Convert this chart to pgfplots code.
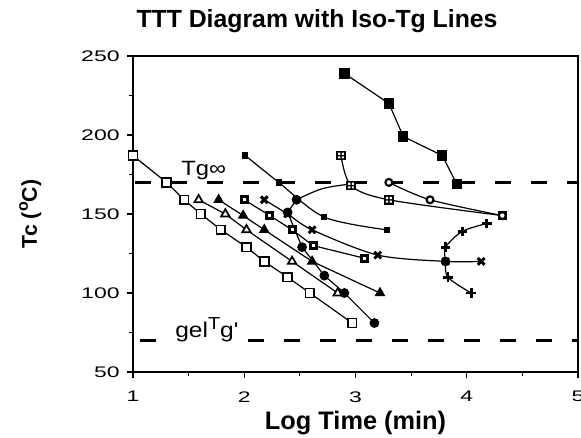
\documentclass[border=0pt]{standalone}
\usepackage{fontspec}
\setmainfont{Liberation Sans}
\newfontfamily\tickfont[FakeStretch=1.5]{Liberation Sans}
\newfontfamily\notefont[FakeStretch=1.15]{Liberation Sans}
\usepackage{pgfplots}
\pgfplotsset{compat=1.18}
\usetikzlibrary{calc}

% black square with a small white hole in the middle
\pgfdeclareplotmark{boxdot}{%
  \pgfpathrectangle{\pgfqpoint{-\pgfplotmarksize}{-\pgfplotmarksize}}{\pgfqpoint{2\pgfplotmarksize}{2\pgfplotmarksize}}%
  \pgfusepathqfill
  \pgfscope
  \pgfsetfillcolor{white}%
  \pgfpathrectangle{\pgfqpoint{-0.35\pgfplotmarksize}{-0.35\pgfplotmarksize}}{\pgfqpoint{0.7\pgfplotmarksize}{0.7\pgfplotmarksize}}%
  \pgfusepathqfill
  \endpgfscope
}
% black square with four white panes
\pgfdeclareplotmark{boxgrid}{%
  \pgfpathrectangle{\pgfqpoint{-\pgfplotmarksize}{-\pgfplotmarksize}}{\pgfqpoint{2\pgfplotmarksize}{2\pgfplotmarksize}}%
  \pgfusepathqfill
  \pgfscope
  \pgfsetfillcolor{white}%
  \pgfpathrectangle{\pgfqpoint{-0.6\pgfplotmarksize}{-0.6\pgfplotmarksize}}{\pgfqpoint{0.45\pgfplotmarksize}{0.45\pgfplotmarksize}}%
  \pgfpathrectangle{\pgfqpoint{0.15\pgfplotmarksize}{-0.6\pgfplotmarksize}}{\pgfqpoint{0.45\pgfplotmarksize}{0.45\pgfplotmarksize}}%
  \pgfpathrectangle{\pgfqpoint{-0.6\pgfplotmarksize}{0.15\pgfplotmarksize}}{\pgfqpoint{0.45\pgfplotmarksize}{0.45\pgfplotmarksize}}%
  \pgfpathrectangle{\pgfqpoint{0.15\pgfplotmarksize}{0.15\pgfplotmarksize}}{\pgfqpoint{0.45\pgfplotmarksize}{0.45\pgfplotmarksize}}%
  \pgfusepathqfill
  \endpgfscope
}

\begin{document}
\begin{tikzpicture}
\begin{axis}[
  name=ax,
  scale only axis,
  width=333.75pt, height=237pt,
  xmin=1, xmax=5, ymin=50, ymax=250,
  xtick={1,2,3,4,5}, ytick={50,100,150,200,250},
  minor x tick num=1, minor y tick num=1,
  tick align=outside, tick pos=left,
  major tick length=4.5pt, minor tick length=3pt,
  axis line style={line width=1pt},
  every tick/.style={line width=0.9pt, black},
  /pgf/number format/assume math mode=true,
  ticklabel style={font=\tickfont\fontsize{11.5}{13}\selectfont},
  xticklabel style={yshift=-6.5pt},
  yticklabel style={xshift=-2pt},
  clip=false,
  every axis plot/.append style={black, line width=0.9pt},
]
% reference temperatures
\addplot[line width=2.4pt, dash pattern=on 12pt off 15pt, forget plot] coordinates {(1.02,170) (5,170)};
\addplot[line width=2.4pt, dash pattern=on 12pt off 15pt, forget plot] coordinates {(1.06,70) (5,70)};

% open squares
\addplot[mark=square*, mark options={fill=white, line width=1.3pt}, mark size=3.3pt]
  coordinates {(1.00,187) (1.30,170) (1.46,159) (1.61,150) (1.79,140) (2.02,129) (2.18,120) (2.39,110) (2.59,100) (2.97,81)};
% open triangles
\addplot[mark=triangle*, mark options={fill=white, line width=1.3pt}, mark size=3.6pt]
  coordinates {(1.59,159) (1.83,150) (2.02,140) (2.43,120) (2.84,100)};
% filled triangles
\addplot[mark=triangle*, mark size=3.8pt]
  coordinates {(1.77,159) (1.99,149) (2.18,140) (2.61,120) (3.22,100)};
% boxed dots
\addplot[mark=boxdot, mark size=3.4pt]
  coordinates {(2.00,159) (2.23,149) (2.43,140) (2.62,130) (3.08,122)};
% crosses
\addplot[mark=x, mark options={line width=2.2pt}, mark size=3.6pt, smooth, tension=0.5]
  coordinates {(2.18,159) (2.39,150) (2.61,140) (3.20,124) (3.81,120) (4.13,120)};
% filled circles
\addplot[mark=*, mark size=3.2pt]
  coordinates {(2.47,159) (2.39,151) (2.52,129) (2.72,111) (2.90,100) (3.17,81)};
\addplot[smooth, tension=0.6] coordinates {(2.47,159) (2.70,166) (2.96,169)};
% small filled squares
\addplot[mark=square*, mark size=1.9pt, smooth, tension=0.5]
  coordinates {(2.01,187) (2.31,170) (2.72,148) (3.28,140)};
% large filled squares
\addplot[mark=square*, mark size=3.4pt]
  coordinates {(2.90,239) (3.30,220) (3.43,199) (3.78,187) (3.91,169)};
% grid squares
\addplot[mark=boxgrid, mark size=3.6pt, smooth, tension=0.5]
  coordinates {(2.87,187) (2.96,168) (3.30,159) (4.32,149)};
% open circles
\addplot[mark=*, mark options={fill=white, line width=1.6pt}, mark size=2.6pt, smooth, tension=0.5]
  coordinates {(3.30,170) (3.67,159) (4.32,149)};
% plus signs
\addplot[mark=+, mark options={line width=2pt}, mark size=3.6pt, smooth, tension=0.5]
  coordinates {(4.18,144) (3.96,139) (3.81,129) (3.81,120) (3.83,110) (4.04,100)};

\node[anchor=base west, font=\notefont\fontsize{15.5}{16}\selectfont, inner sep=1pt] at (axis cs:1.42,174.5) {Tg∞};
\node[anchor=base west, font=\notefont\fontsize{16}{17}\selectfont, fill=white, inner sep=1.5pt] at (axis cs:1.36,71.8) {gel\raisebox{0.7ex}{\fontsize{13}{14}\selectfont T}g'};
\end{axis}

% title and axis labels
\node[font=\bfseries\fontsize{18.6}{20}\selectfont] at ($(ax.north west)+(138pt,26.5pt)$) {TTT Diagram with Iso-Tg Lines};
\node[font=\bfseries\fontsize{19}{21}\selectfont] at ($(ax.south west)+(166.9pt,-38.5pt)$) {Log Time (min)};
\node[font=\bfseries\fontsize{16}{18}\selectfont, rotate=90] at ($(ax.west)+(-77pt,0pt)$) {Tc (\raisebox{0.8ex}{\fontsize{12}{12}\selectfont o}C)};

\pgfresetboundingbox
\path[use as bounding box] ($(ax.south west)+(-99.75pt,-48.75pt)$) rectangle ($(ax.north east)+(2.25pt,42pt)$);
\end{tikzpicture}
\end{document}
